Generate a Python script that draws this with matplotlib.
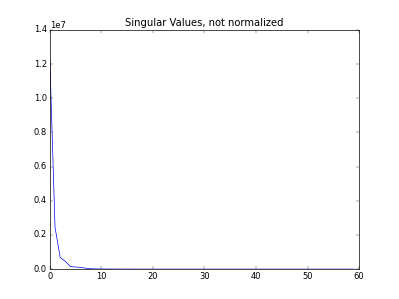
import matplotlib
matplotlib.use("Agg")
import matplotlib.pyplot as plt

# singular values (index 0..59)
sing_vals = [1.22e7, 2.45e6, 6.8e5, 4.5e5, 1.5e5, 1.2e5, 1.0e5, 5.0e4, 2.0e4, 1.0e4,
             8.0e3, 6.0e3, 5.0e3, 4.0e3, 3.0e3, 2.5e3, 2.0e3, 1.5e3, 1.2e3, 1.0e3,
             900, 800, 700, 600, 500, 450, 400, 350, 300, 250,
             200, 180, 160, 140, 120, 100, 90, 80, 70, 60,
             50, 45, 40, 35, 30, 25, 20, 18, 16, 14,
             12, 10, 8, 6, 5, 4, 3, 2, 1, 0]
idx = list(range(len(sing_vals)))

plt.style.use('classic')
fig = plt.figure(figsize=(7.98, 5.98), dpi=50)
ax = fig.add_subplot(111)
ax.plot(idx, sing_vals, color='b')
ax.set_title('Singular Values, not normalized')
ax.set_xlim(0, 60)
ax.set_ylim(0, 1.4e7)

fig.savefig('out.png', dpi=50)
